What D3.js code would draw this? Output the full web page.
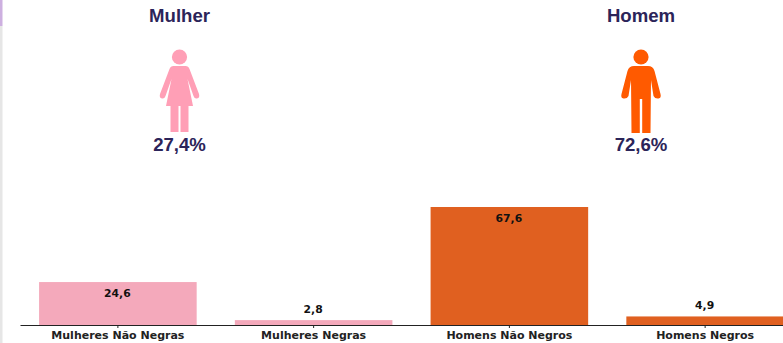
<!DOCTYPE html>
<html lang="pt">
<head>
<meta charset="utf-8">
<script src="https://cdn.jsdelivr.net/npm/d3@7/dist/d3.min.js"></script>
<style>
  html, body { margin: 0; padding: 0; background: #fff; overflow: hidden; }
  svg { display: block; }
  .tick-label { font-family: "DejaVu Sans", sans-serif; font-weight: 700; font-size: 11px; fill: #222; }
  .value-label { font-family: "DejaVu Sans", sans-serif; font-weight: 700; font-size: 10.8px; fill: #111; }
  .head-title { font-family: "Liberation Sans", sans-serif; font-weight: 700; font-size: 18.6px; fill: #2b2459; }
</style>
</head>
<body>
<div id="chart"></div>
<script>
// Bar data: share of each group, in percent
const categories = ["Mulheres Não Negras", "Mulheres Negras", "Homens Não Negros", "Homens Negros"];
const values = [24.6, 2.8, 67.6, 4.9];
const barColors = ["#f4a9bb", "#f4a9bb", "#e06020", "#e06020"];

// Header panels: sex totals with a pictogram each
const sexNames = ["Mulher", "Homem"];
const sexShares = ["27,4%", "72,6%"];
const sexColors = ["#ff9fb6", "#ff5a00"];
const sexCentres = [179.5, 641];

const width = 783, height = 343;
const svg = d3.select("#chart").append("svg").attr("width", width).attr("height", height);

// Thin strip along the left page edge
svg.append("rect").attr("x", 0).attr("y", 0).attr("width", 2.5).attr("height", 26).attr("fill", "#cdb0e0");
svg.append("rect").attr("x", 0).attr("y", 26).attr("width", 2.5).attr("height", height - 26).attr("fill", "#e6e6e6");

// Scales
const baseline = 325;
const x = d3.scaleBand().domain(categories).range([20, 803]).paddingInner(0.195).paddingOuter(0.0975);
const y = d3.scaleLinear().domain([0, 67.6]).range([baseline, 207]);

// Bars
svg.append("g").selectAll("rect").data(values).join("rect")
  .attr("x", (d, i) => x(categories[i]))
  .attr("y", d => y(d))
  .attr("width", x.bandwidth())
  .attr("height", d => baseline - y(d))
  .attr("fill", (d, i) => barColors[i]);

// Value labels: inside tall bars, above short ones
svg.append("g").selectAll("text").data(values).join("text")
  .attr("class", "value-label")
  .attr("text-anchor", "middle")
  .attr("x", (d, i) => x(categories[i]) + x.bandwidth() / 2 - 0.5)
  .attr("y", d => d > 10 ? y(d) + 15 : y(d) - 7)
  .text(d => String(d).replace(".", ","));

// Category axis
const axis = svg.append("g").attr("transform", `translate(0,${baseline})`)
  .call(d3.axisBottom(x).tickSize(3).tickSizeOuter(0).tickPadding(3));
axis.select(".domain").attr("stroke", "#222").attr("stroke-width", 1.2);
axis.selectAll(".tick line").attr("stroke", "#222");
axis.selectAll(".tick text").attr("class", "tick-label").attr("fill", null).attr("font-family", null).attr("font-size", null);

// Pictograms, outlined around the figure's vertical centre line
const womanPath = "M-6,66 L6,66 Q9,66 10,69 L19.5,94 Q20.5,98 17.5,98.5 Q15,99 14,96 L8,79 L13.5,106 L9,106 L9,132 L1,132 L1,106 L-1,106 L-1,132 L-9,132 L-9,106 L-13.5,106 L-8,79 L-14,96 Q-15,99 -17.5,98.5 Q-20.5,98 -19.5,94 L-10,69 Q-9,66 -6,66 Z";
const manPath = "M-7,66 L7,66 Q12,66 13.5,71 L19.5,94 Q20.5,98 17.5,98.5 Q14,99 12.5,96 L10,80 L9.5,133 L1.2,133 L1.2,99 L-1.2,99 L-1.2,133 L-9.5,133 L-10,80 L-12.5,96 Q-14,99 -17.5,98.5 Q-20.5,98 -19.5,94 L-13.5,71 Q-12,66 -7,66 Z";
const iconPaths = [womanPath, manPath];

const panel = svg.append("g").selectAll("g").data(sexNames).join("g")
  .attr("transform", (d, i) => `translate(${sexCentres[i]},0)`);

panel.append("text").attr("class", "head-title").attr("text-anchor", "middle").attr("y", 22).text(d => d);
panel.append("circle").attr("cy", 57).attr("r", 7.6).attr("fill", (d, i) => sexColors[i]);
panel.append("path").attr("d", (d, i) => iconPaths[i]).attr("fill", (d, i) => sexColors[i]);
panel.append("text").attr("class", "head-title").attr("text-anchor", "middle").attr("y", 151)
  .text((d, i) => sexShares[i]);
</script>
</body>
</html>
